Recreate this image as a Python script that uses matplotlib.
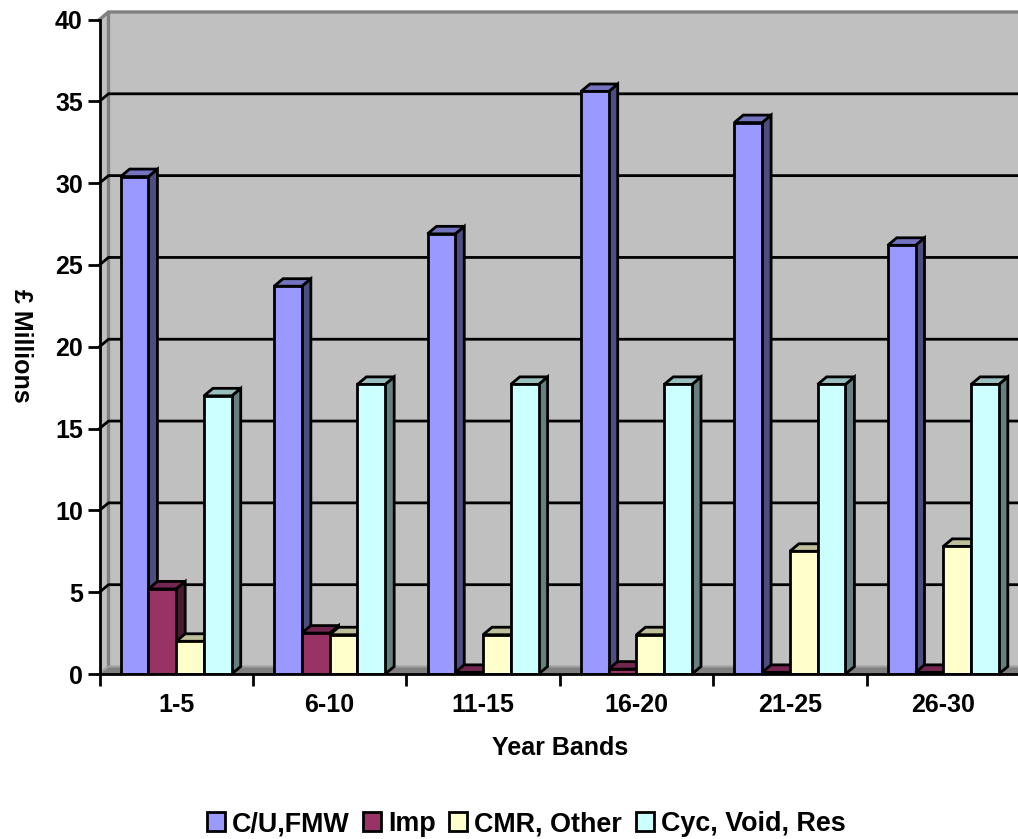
import matplotlib
matplotlib.use('Agg')
import matplotlib.pyplot as plt
from matplotlib.patches import Patch

plt.rcParams['font.family'] = ['Liberation Sans', 'DejaVu Sans']
plt.rcParams['font.weight'] = 'bold'

bands = ['1-5', '6-10', '11-15', '16-20', '21-25', '26-30']
series = ['C/U,FMW', 'Imp', 'CMR, Other', 'Cyc, Void, Res']
cu_fmw = [30.4, 23.7, 26.9, 35.6, 33.7, 26.2]
imp = [5.2, 2.5, 0.1, 0.3, 0.1, 0.1]
cmr = [2.0, 2.4, 2.4, 2.4, 7.5, 7.8]
cyc = [17.0, 17.7, 17.7, 17.7, 17.7, 17.7]
yticks = [0, 5, 10, 15, 20, 25, 30, 35, 40]

front_cols = ['#9999ff', '#993366', '#ffffcc', '#ccffff']
top_cols = ['#7373bf', '#732650', '#bfbf99', '#99bfbf']
side_cols = ['#4d4d80', '#4d1a33', '#808066', '#668080']

W, H = 1018, 839
fig = plt.figure(figsize=(W/100, H/100), dpi=100)
# axes box in pixels, x runs a little past the right edge like the original
ax = fig.add_axes([99.5/W, 1-674/H, (1020-99.5)/W, (674-19.5)/H])
ax.set_xlim(0, 6)
ax.set_ylim(0, 40)

# depth of the fake 3d, in data units
dx = 9.0/153.5
dy = 7.5/16.36
bw = 0.181
off = 0.138
lw = 2.0

# walls and floor
ax.fill([0, dx, dx, 0], [0, dy, 40+dy, 40], fc='#c0c0c0', ec='none', zorder=1, clip_on=False)
ax.fill([dx, 6.02, 6.02, dx], [dy, dy, 40+dy, 40+dy], fc='#c0c0c0', ec='none', zorder=1, clip_on=False)
ax.fill([0, dx, 6.02, 6.02], [0, dy, dy, 0], fc='#808080', ec='none', zorder=1)
ax.plot([0, dx, 6.02], [40, 40+dy, 40+dy], color='#808080', lw=2.4, zorder=1.5, clip_on=False)
ax.plot([dx, dx], [dy, 40+dy], color='#808080', lw=2.4, zorder=1.5, clip_on=False)
ax.plot([0, dx, 6.02], [0.05, dy, dy], color='#a0a0a0', lw=1.5, zorder=1.5)

# gridlines on back wall
for v in yticks[1:-1]:
    ax.plot([0, dx, 6.02], [v, v+dy, v+dy], color='black', lw=lw, zorder=2, clip_on=False)

all_vals = [cu_fmw, imp, cmr, cyc]
for k, vals in enumerate(all_vals):
    z = 3+k
    xs = [i+off+k*bw for i in range(len(bands))]
    for x, v in zip(xs, vals):
        ax.fill([x+bw, x+bw+dx, x+bw+dx, x+bw], [0, dy, v+dy, v], fc=side_cols[k], ec='black',
                lw=lw, zorder=z, joinstyle='miter')
        ax.fill([x, x+dx, x+bw+dx, x+bw], [v, v+dy, v+dy, v], fc=top_cols[k], ec='black',
                lw=lw, zorder=z, joinstyle='miter')
    ax.bar(xs, vals, bw, align='edge', color=front_cols[k], edgecolor='black', lw=lw, zorder=z+0.5)

for s in ['top', 'right']:
    ax.spines[s].set_visible(False)
for s in ['left', 'bottom']:
    ax.spines[s].set_linewidth(lw)
    ax.spines[s].set_zorder(12)

ax.set_yticks(yticks)
ax.tick_params(axis='y', length=8.5, width=lw, labelsize=18, pad=3.5)
ax.set_xticks(range(7))
ax.set_xticklabels([])
ax.set_xticks([i+0.5 for i in range(6)], minor=True)
ax.set_xticklabels(bands, minor=True, fontsize=18)
ax.tick_params(axis='x', which='major', length=8.5, width=lw)
ax.tick_params(axis='x', which='minor', length=0, pad=14)

fig.text(560/W, 1-748/H, 'Year Bands', ha='center', va='center', fontsize=18)
fig.text(21/W, 1-346/H, '£ Millions', ha='center', va='center', rotation=270, fontsize=18)

handles = [Patch(fc=c, ec='black', lw=lw) for c in front_cols]
fig.legend(handles, series, ncol=4, frameon=False, fontsize=19.4,
           loc='center', bbox_to_anchor=(526/W, 1-824/H),
           handlelength=0.67, handleheight=0.67, handletextpad=0.26, columnspacing=0.5,
           borderpad=0, borderaxespad=0)

fig.savefig('out.png', dpi=100)
